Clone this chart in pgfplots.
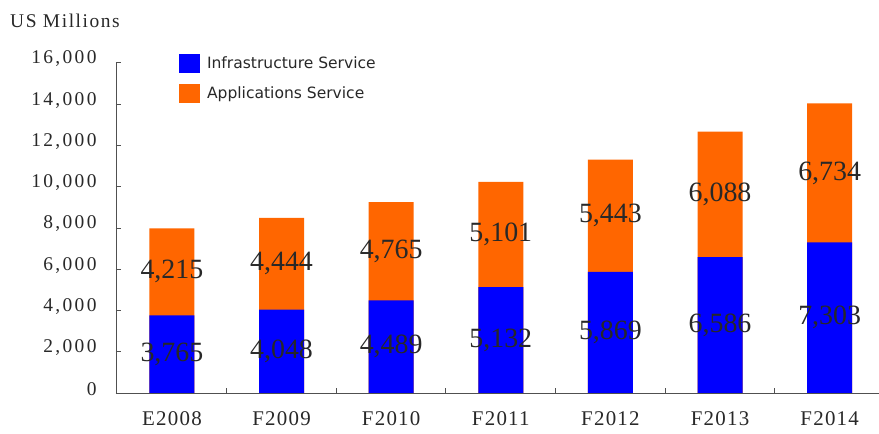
\documentclass[border=0pt]{standalone}
\usepackage{pgfplots}
\pgfplotsset{compat=1.18}
\usepackage{pgfplotstable}
\usepackage{fontspec}
\setmainfont{Liberation Serif}
\newfontfamily\tickfont[LetterSpace=12]{Liberation Serif}
\newfontfamily\xfont[LetterSpace=6]{Liberation Serif}
\newfontfamily\usfont[LetterSpace=8]{Liberation Serif}
\newfontfamily\legfont{DejaVu Sans}
\definecolor{infraBlue}{RGB}{0,0,255}
\definecolor{appOrange}{RGB}{255,102,0}
\definecolor{axisgray}{RGB}{80,80,80}
\definecolor{txt}{RGB}{40,40,40}

\pgfplotstableread{
x a b
0 3765 4215
1 4048 4444
2 4489 4765
3 5132 5101
4 5869 5443
5 6586 6088
6 7303 6734
}\datatable

\begin{document}
\begin{tikzpicture}
\useasboundingbox (-116bp,-41bp) rectangle (763bp,393bp);
\begin{axis}[
  scale only axis, width=763bp, height=330bp,
  at={(0,0)}, anchor=south west,
  xmin=-0.51, xmax=6.45, ymin=0, ymax=16000,
  axis x line*=bottom, axis y line*=left,
  axis line style={axisgray, line width=1pt, -},
  ytick={0,2000,...,16000},
  scaled y ticks=false,
  /pgf/number format/assume math mode=true,
  /pgf/number format/1000 sep={,},
  yticklabel style={font=\fontsize{19.5}{22}\tickfont, text=txt, xshift=-16bp, yshift=4bp},
  xtick={0,...,6},
  xticklabels={E2008,F2009,F2010,F2011,F2012,F2013,F2014},
  xticklabel style={font=\fontsize{21}{24}\xfont, text=txt, inner ysep=1bp,
    text depth=0pt, yshift=-17bp},
  minor xtick={0.5,1.5,...,5.5},
  tick align=inside,
  major tick length=5bp, minor tick length=5bp,
  tick style={axisgray, line width=1pt},
  major x tick style={draw=none},
  legend style={at={(axis description cs:0.0826,1.027)}, anchor=north west,
    draw=none, fill=none, inner sep=0pt, outer sep=0pt,
    font=\fontsize{15.6}{18}\legfont, text=txt, row sep=11bp,
    nodes={inner xsep=7bp}},
  legend cell align=left,
  legend image code/.code={\fill[#1] (0bp,-9.5bp) rectangle (21bp,9.5bp);},
]
\addlegendimage{fill=infraBlue, draw=none}
\addlegendentry{Infrastructure Service}
\addlegendimage{fill=appOrange, draw=none}
\addlegendentry{Applications Service}

\addplot[ybar, bar width=45bp, bar shift=0pt, fill=appOrange, draw=none, forget plot]
  table[x=x, y expr=\thisrow{a}+\thisrow{b}] \datatable;
\addplot[ybar, bar width=45bp, bar shift=0pt, fill=infraBlue, draw=none, forget plot]
  table[x=x, y=a] \datatable;

\addplot[draw=none, forget plot, nodes near coords, point meta=explicit,
  nodes near coords style={anchor=center, font=\fontsize{28}{30}\selectfont, text=txt,
    /pgf/number format/fixed, /pgf/number format/precision=0}]
  table[x=x, y expr=\thisrow{a}/2, meta=a] \datatable;
\addplot[draw=none, forget plot, nodes near coords, point meta=explicit,
  nodes near coords style={anchor=center, font=\fontsize{28}{30}\selectfont, text=txt,
    /pgf/number format/fixed, /pgf/number format/precision=0}]
  table[x=x, y expr=\thisrow{a}+\thisrow{b}/2, meta=b] \datatable;
\end{axis}
\node[anchor=base west, inner sep=0pt, font=\fontsize{19.5}{22}\usfont, text=txt]
  at (-106bp,365bp) {US Millions};
\end{tikzpicture}
\end{document}
